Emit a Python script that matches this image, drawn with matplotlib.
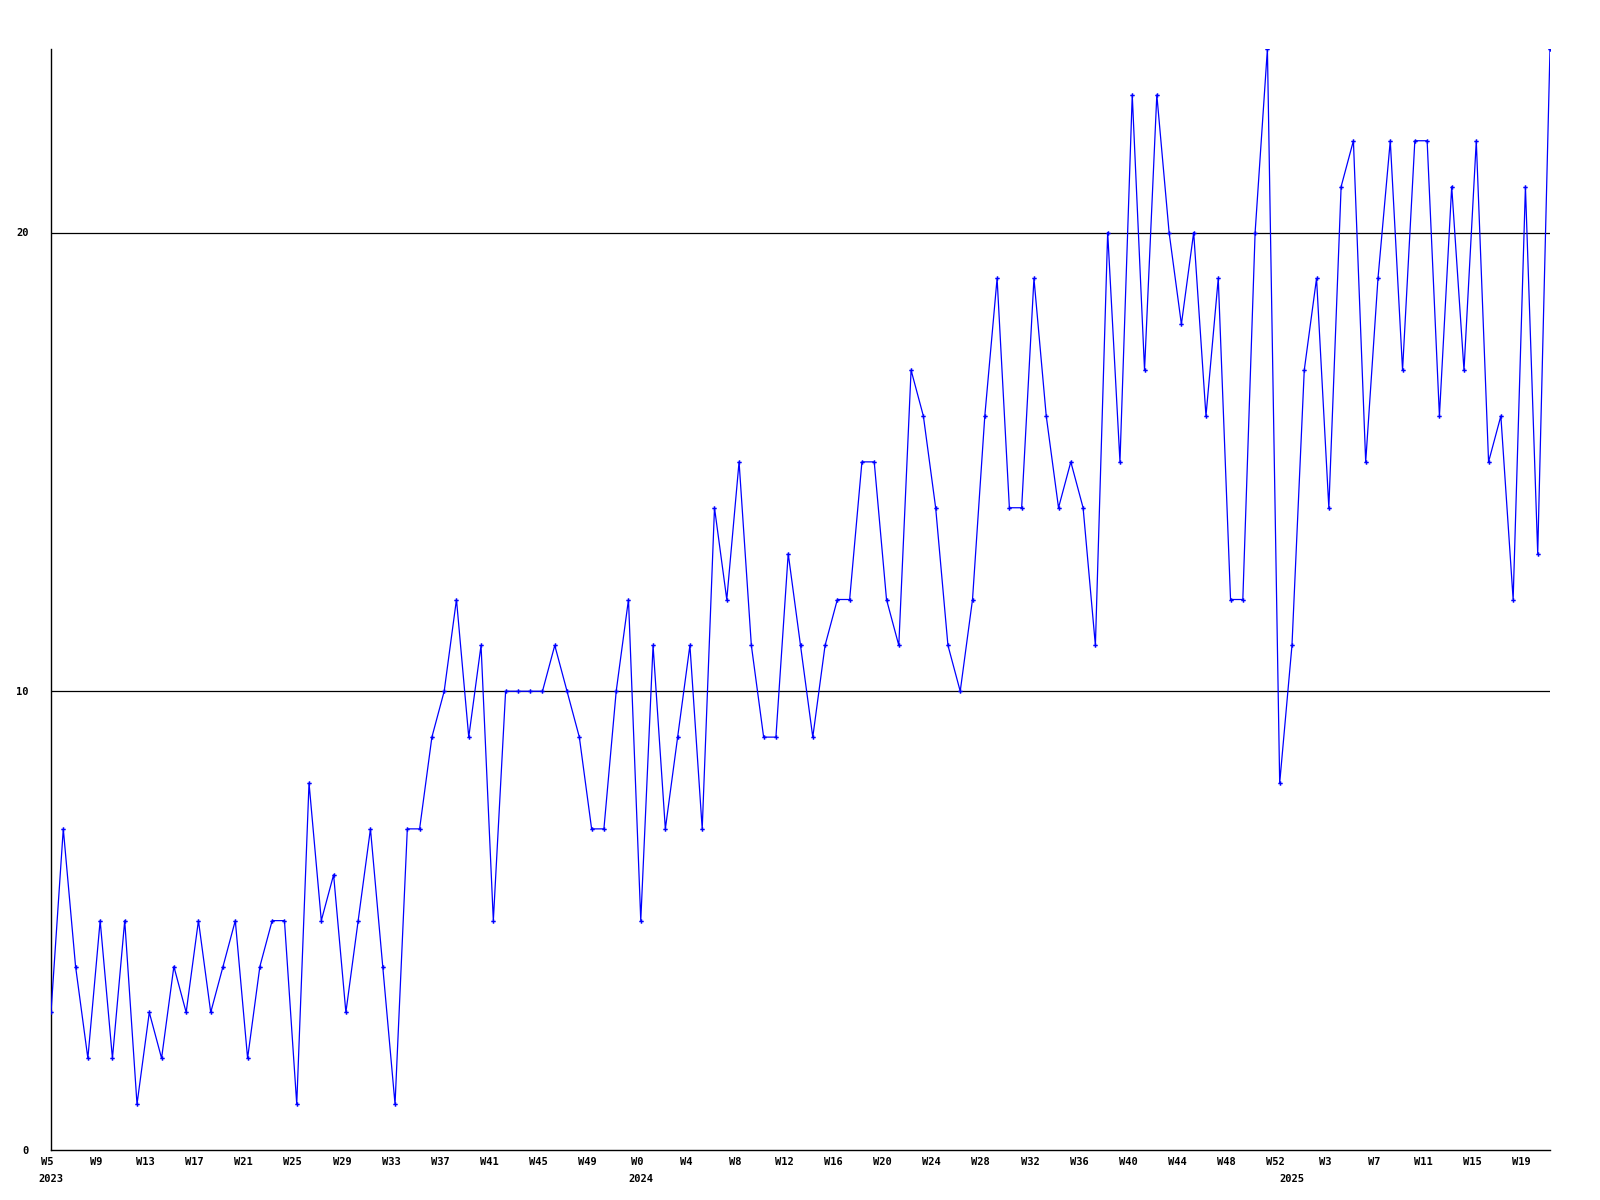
import matplotlib
matplotlib.use("Agg")
import matplotlib.pyplot as plt
import matplotlib.transforms as mtransforms

# Week segments (year, first week, last week)
years = [2023, 2024, 2025]
first_week = [5, 0, 0]
last_week = [52, 52, 21]

values = [
    3, 7, 4, 2, 5, 2, 5, 1, 3, 2, 4, 3, 5, 3, 4, 5, 2, 4, 5, 5,
    1, 8, 5, 6, 3, 5, 7, 4, 1, 7, 7, 9, 10, 12, 9, 11, 5, 10, 10, 10,
    10, 11, 10, 9, 7, 7, 10, 12, 5, 11, 7, 9, 11, 7, 14, 12, 15, 11, 9, 9,
    13, 11, 9, 11, 12, 12, 15, 15, 12, 11, 17, 16, 14, 11, 10, 12, 16, 19, 14, 14,
    19, 16, 14, 15, 14, 11, 20, 15, 23, 17, 23, 20, 18, 20, 16, 19, 12, 12, 20, 24,
    8, 11, 17, 19, 14, 21, 22, 15, 19, 22, 17, 22, 22, 16, 21, 17, 22, 15, 16, 12,
    21, 13, 24,
]

y_ticks = [0, 10, 20]
y_max = 24

# build category labels
week_labels = []
year_start = []
for yr, fw, lw in zip(years, first_week, last_week):
    year_start.append(len(week_labels))
    for w in range(fw, lw + 1):
        week_labels.append(f"W{w}")

x = list(range(len(values)))

fig = plt.figure(figsize=(16, 12), dpi=100)
ax = fig.add_axes([51 / 1600, 1 - 1150 / 1200, (1550 - 51) / 1600, (1150 - 49) / 1200])

font = dict(family="DejaVu Sans Mono", weight="bold", size=7.5)

for yv in y_ticks[1:]:
    ax.axhline(yv, color="black", lw=0.9, zorder=1)

ax.plot(x, values, color="#0000ff", lw=0.9, marker="P", markersize=3.2,
        markeredgewidth=0, zorder=3)

ax.set_xlim(0, len(values) - 1)
ax.set_ylim(0, y_max)
ax.margins(0)

ax.spines["top"].set_visible(False)
ax.spines["right"].set_visible(False)
ax.spines["left"].set_color("black")
ax.spines["bottom"].set_color("black")
ax.spines["left"].set_linewidth(1.0)
ax.spines["bottom"].set_linewidth(1.0)

tick_pos = x[::4]
ax.set_xticks(tick_pos)
ax.set_xticklabels([week_labels[i] for i in tick_pos], **font)
ax.set_yticks(y_ticks)
ax.set_yticklabels([str(v) for v in y_ticks], **font)
ax.tick_params(axis="both", length=0)
ax.tick_params(axis="x", pad=5)
ax.tick_params(axis="y", pad=16)

shift = mtransforms.ScaledTranslation(-4 / 100, 0, fig.dpi_scale_trans)
for lbl in ax.get_xticklabels():
    lbl.set_transform(lbl.get_transform() + shift)

trans = mtransforms.blended_transform_factory(ax.transData, ax.transAxes)
for yr, idx in zip(years, year_start):
    ax.text(idx, -0.0215, str(yr), transform=trans, ha="center", va="top", **font)

fig.savefig("out.png", dpi=100, facecolor="white")
